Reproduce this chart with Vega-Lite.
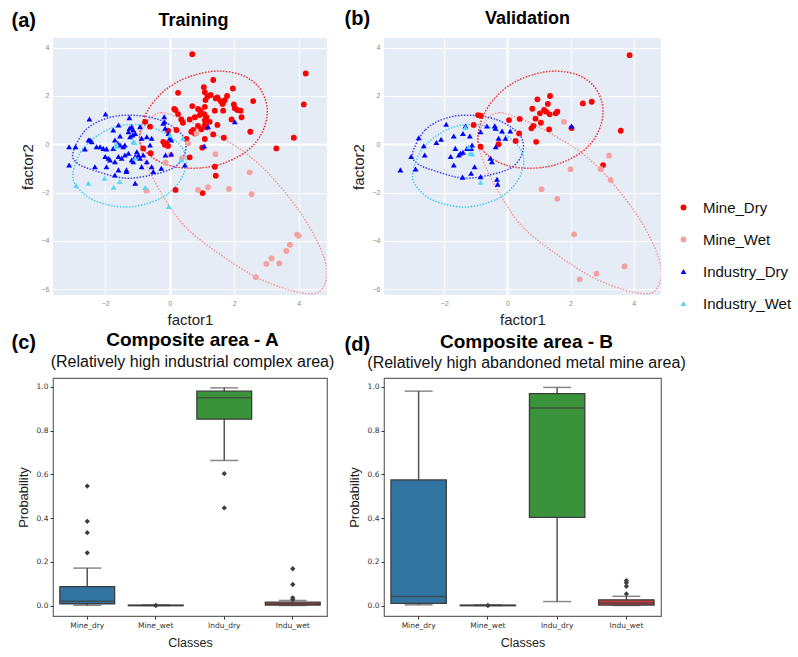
{
"$schema": "https://vega.github.io/schema/vega-lite/v6.json",
"autosize": {"type": "pad"},
"padding": {"left": 10, "top": 8, "right": 5, "bottom": 5},
"background": "white",
"config": {"font": "Liberation Sans"},
"columns": 2,
"bounds": "flush",
"spacing": {"row": 83, "column": 57},
"resolve": {"scale": {"color": "independent", "shape": "independent", "size": "independent"}, "legend": {"color": "independent", "shape": "independent"}},
"datasets": {
"ell": [
{"cls":"Mine_Dry","i":0,"x":-0.93,"y":0.11},{"cls":"Mine_Dry","i":1,"x":-0.78,"y":1.14},{"cls":"Mine_Dry","i":2,"x":-0.36,"y":1.97},{"cls":"Mine_Dry","i":3,"x":0.16,"y":2.52},{"cls":"Mine_Dry","i":4,"x":0.78,"y":2.87},{"cls":"Mine_Dry","i":5,"x":1.5,"y":3.03},{"cls":"Mine_Dry","i":6,"x":2.23,"y":2.87},{"cls":"Mine_Dry","i":7,"x":2.75,"y":2.39},{"cls":"Mine_Dry","i":8,"x":3.0,"y":1.7},{"cls":"Mine_Dry","i":9,"x":3.0,"y":1.01},{"cls":"Mine_Dry","i":10,"x":2.8,"y":0.32},{"cls":"Mine_Dry","i":11,"x":2.44,"y":-0.23},{"cls":"Mine_Dry","i":12,"x":1.92,"y":-0.65},{"cls":"Mine_Dry","i":13,"x":1.3,"y":-0.92},{"cls":"Mine_Dry","i":14,"x":0.57,"y":-0.99},{"cls":"Mine_Dry","i":15,"x":-0.05,"y":-0.86},{"cls":"Mine_Dry","i":16,"x":-0.57,"y":-0.51},
{"cls":"Mine_Wet","i":0,"x":-0.67,"y":1.0},{"cls":"Mine_Wet","i":1,"x":-0.26,"y":1.31},{"cls":"Mine_Wet","i":2,"x":0.36,"y":1.07},{"cls":"Mine_Wet","i":3,"x":0.98,"y":0.73},{"cls":"Mine_Wet","i":4,"x":1.81,"y":0.11},{"cls":"Mine_Wet","i":5,"x":2.43,"y":-0.44},{"cls":"Mine_Wet","i":6,"x":3.16,"y":-1.34},{"cls":"Mine_Wet","i":7,"x":3.99,"y":-2.71},{"cls":"Mine_Wet","i":8,"x":4.5,"y":-3.82},{"cls":"Mine_Wet","i":9,"x":4.81,"y":-4.78},{"cls":"Mine_Wet","i":10,"x":4.87,"y":-5.47},{"cls":"Mine_Wet","i":11,"x":4.71,"y":-6.02},{"cls":"Mine_Wet","i":12,"x":4.4,"y":-6.19},{"cls":"Mine_Wet","i":13,"x":3.68,"y":-6.02},{"cls":"Mine_Wet","i":14,"x":2.64,"y":-5.47},{"cls":"Mine_Wet","i":15,"x":1.5,"y":-4.5},{"cls":"Mine_Wet","i":16,"x":0.47,"y":-3.4},{"cls":"Mine_Wet","i":17,"x":-0.26,"y":-2.02},{"cls":"Mine_Wet","i":18,"x":-0.78,"y":-0.65},{"cls":"Mine_Wet","i":19,"x":-0.93,"y":0.31},
{"cls":"Industry_Dry","i":0,"x":-3.0,"y":-0.35},{"cls":"Industry_Dry","i":1,"x":-2.6,"y":0.6},{"cls":"Industry_Dry","i":2,"x":-1.9,"y":1.1},{"cls":"Industry_Dry","i":3,"x":-1.1,"y":1.2},{"cls":"Industry_Dry","i":4,"x":-0.3,"y":1.0},{"cls":"Industry_Dry","i":5,"x":0.35,"y":0.45},{"cls":"Industry_Dry","i":6,"x":0.5,"y":-0.2},{"cls":"Industry_Dry","i":7,"x":0.2,"y":-0.9},{"cls":"Industry_Dry","i":8,"x":-0.5,"y":-1.25},{"cls":"Industry_Dry","i":9,"x":-1.4,"y":-1.4},{"cls":"Industry_Dry","i":10,"x":-2.3,"y":-1.1},{"cls":"Industry_Dry","i":11,"x":-2.85,"y":-0.8},
{"cls":"Industry_Wet","i":0,"x":-3.0,"y":-1.2},{"cls":"Industry_Wet","i":1,"x":-2.7,"y":-0.2},{"cls":"Industry_Wet","i":2,"x":-2.0,"y":0.55},{"cls":"Industry_Wet","i":3,"x":-1.2,"y":0.82},{"cls":"Industry_Wet","i":4,"x":-0.4,"y":0.62},{"cls":"Industry_Wet","i":5,"x":0.3,"y":0.0},{"cls":"Industry_Wet","i":6,"x":0.52,"y":-0.7},{"cls":"Industry_Wet","i":7,"x":0.3,"y":-1.55},{"cls":"Industry_Wet","i":8,"x":-0.3,"y":-2.25},{"cls":"Industry_Wet","i":9,"x":-1.3,"y":-2.6},{"cls":"Industry_Wet","i":10,"x":-2.3,"y":-2.35},{"cls":"Industry_Wet","i":11,"x":-2.85,"y":-1.8}
],
"trn": [
{"cls":"Mine_Dry","x":0.7,"y":3.73},{"cls":"Mine_Dry","x":4.22,"y":2.93},{"cls":"Mine_Dry","x":4.16,"y":1.65},{"cls":"Mine_Dry","x":3.85,"y":0.27},{"cls":"Mine_Dry","x":3.31,"y":-0.17},{"cls":"Mine_Dry","x":2.59,"y":1.79},{"cls":"Mine_Dry","x":2.5,"y":0.52},{"cls":"Mine_Dry","x":1.96,"y":2.31},{"cls":"Mine_Dry","x":1.35,"y":2.66},{"cls":"Mine_Dry","x":1.06,"y":2.36},{"cls":"Mine_Dry","x":1.09,"y":2.15},{"cls":"Mine_Dry","x":0.26,"y":2.13},{"cls":"Mine_Dry","x":1.78,"y":2.0},{"cls":"Mine_Dry","x":1.48,"y":1.94},{"cls":"Mine_Dry","x":1.43,"y":1.9},{"cls":"Mine_Dry","x":1.27,"y":2.04},{"cls":"Mine_Dry","x":1.17,"y":1.97},{"cls":"Mine_Dry","x":1.11,"y":1.83},{"cls":"Mine_Dry","x":1.58,"y":1.79},{"cls":"Mine_Dry","x":1.66,"y":1.74},{"cls":"Mine_Dry","x":1.71,"y":1.83},{"cls":"Mine_Dry","x":1.64,"y":1.67},{"cls":"Mine_Dry","x":1.99,"y":1.65},{"cls":"Mine_Dry","x":2.02,"y":1.49},{"cls":"Mine_Dry","x":2.1,"y":1.42},{"cls":"Mine_Dry","x":2.2,"y":1.39},{"cls":"Mine_Dry","x":2.23,"y":1.12},{"cls":"Mine_Dry","x":1.92,"y":1.03},{"cls":"Mine_Dry","x":1.66,"y":1.39},{"cls":"Mine_Dry","x":1.4,"y":1.39},{"cls":"Mine_Dry","x":0.7,"y":1.58},{"cls":"Mine_Dry","x":0.14,"y":1.46},{"cls":"Mine_Dry","x":0.18,"y":1.42},{"cls":"Mine_Dry","x":0.26,"y":1.25},{"cls":"Mine_Dry","x":0.88,"y":1.46},{"cls":"Mine_Dry","x":0.96,"y":1.38},{"cls":"Mine_Dry","x":1.07,"y":1.25},{"cls":"Mine_Dry","x":1.14,"y":1.12},{"cls":"Mine_Dry","x":1.09,"y":1.0},{"cls":"Mine_Dry","x":0.78,"y":1.12},{"cls":"Mine_Dry","x":0.93,"y":1.21},{"cls":"Mine_Dry","x":1.24,"y":0.93},{"cls":"Mine_Dry","x":1.09,"y":1.55},{"cls":"Mine_Dry","x":1.48,"y":0.8},{"cls":"Mine_Dry","x":0.36,"y":1.03},{"cls":"Mine_Dry","x":0.41,"y":0.89},{"cls":"Mine_Dry","x":0.62,"y":1.03},{"cls":"Mine_Dry","x":0.88,"y":0.76},{"cls":"Mine_Dry","x":0.98,"y":0.62},{"cls":"Mine_Dry","x":1.14,"y":0.7},{"cls":"Mine_Dry","x":1.09,"y":0.8},{"cls":"Mine_Dry","x":0.73,"y":0.59},{"cls":"Mine_Dry","x":0.67,"y":0.52},{"cls":"Mine_Dry","x":0.78,"y":0.45},{"cls":"Mine_Dry","x":0.21,"y":0.59},{"cls":"Mine_Dry","x":0.52,"y":0.22},{"cls":"Mine_Dry","x":1.09,"y":0.22},{"cls":"Mine_Dry","x":1.35,"y":0.41},{"cls":"Mine_Dry","x":1.68,"y":0.27},{"cls":"Mine_Dry","x":1.01,"y":-0.14},{"cls":"Mine_Dry","x":-0.2,"y":0.1},{"cls":"Mine_Dry","x":-0.1,"y":0.04},{"cls":"Mine_Dry","x":-0.05,"y":-0.07},{"cls":"Mine_Dry","x":-0.05,"y":0.56},{"cls":"Mine_Dry","x":0.62,"y":-0.54},{"cls":"Mine_Dry","x":1.4,"y":-0.93},{"cls":"Mine_Dry","x":1.43,"y":-1.3},{"cls":"Mine_Dry","x":0.18,"y":-1.89},{"cls":"Mine_Dry","x":1.02,"y":-2.02},{"cls":"Mine_Dry","x":-0.61,"y":0.73},{"cls":"Mine_Dry","x":-0.76,"y":0.93},{"cls":"Mine_Dry","x":-0.59,"y":-0.37},{"cls":"Mine_Dry","x":-0.82,"y":-0.17},{"cls":"Mine_Dry","x":-0.15,"y":-0.02},
{"cls":"Mine_Wet","x":1.42,"y":-0.41},{"cls":"Mine_Wet","x":0.88,"y":-1.89},{"cls":"Mine_Wet","x":1.19,"y":-1.78},{"cls":"Mine_Wet","x":1.84,"y":-1.85},{"cls":"Mine_Wet","x":2.48,"y":-1.16},{"cls":"Mine_Wet","x":2.54,"y":-2.07},{"cls":"Mine_Wet","x":3.95,"y":-3.74},{"cls":"Mine_Wet","x":4.0,"y":-3.79},{"cls":"Mine_Wet","x":3.73,"y":-4.16},{"cls":"Mine_Wet","x":3.62,"y":-4.42},{"cls":"Mine_Wet","x":3.16,"y":-4.73},{"cls":"Mine_Wet","x":3.0,"y":-4.95},{"cls":"Mine_Wet","x":3.4,"y":-4.93},{"cls":"Mine_Wet","x":2.67,"y":-5.5},{"cls":"Mine_Wet","x":-0.72,"y":-1.92},{"cls":"Mine_Wet","x":0.83,"y":0.45},{"cls":"Mine_Wet","x":0.57,"y":0.04},{"cls":"Mine_Wet","x":0.38,"y":-0.58},{"cls":"Mine_Wet","x":0.03,"y":-0.44},{"cls":"Mine_Wet","x":-0.13,"y":-0.76},
{"cls":"Industry_Dry","x":-3.12,"y":-0.1},{"cls":"Industry_Dry","x":-2.92,"y":-0.1},{"cls":"Industry_Dry","x":-3.12,"y":-0.86},{"cls":"Industry_Dry","x":-2.63,"y":-0.19},{"cls":"Industry_Dry","x":-2.52,"y":0.18},{"cls":"Industry_Dry","x":-2.47,"y":0.18},{"cls":"Industry_Dry","x":-2.42,"y":0.11},{"cls":"Industry_Dry","x":-2.49,"y":1.05},{"cls":"Industry_Dry","x":-1.99,"y":1.25},{"cls":"Industry_Dry","x":-2.27,"y":-0.1},{"cls":"Industry_Dry","x":-2.16,"y":-0.1},{"cls":"Industry_Dry","x":-2.06,"y":-0.17},{"cls":"Industry_Dry","x":-1.96,"y":-0.19},{"cls":"Industry_Dry","x":-2.32,"y":-0.93},{"cls":"Industry_Dry","x":-2.0,"y":-0.51},{"cls":"Industry_Dry","x":-1.9,"y":-0.58},{"cls":"Industry_Dry","x":-1.75,"y":0.59},{"cls":"Industry_Dry","x":-1.54,"y":0.34},{"cls":"Industry_Dry","x":-1.59,"y":0.8},{"cls":"Industry_Dry","x":-1.7,"y":0.18},{"cls":"Industry_Dry","x":-1.61,"y":0.04},{"cls":"Industry_Dry","x":-1.75,"y":-0.17},{"cls":"Industry_Dry","x":-1.54,"y":-0.03},{"cls":"Industry_Dry","x":-1.44,"y":-0.1},{"cls":"Industry_Dry","x":-1.39,"y":-0.03},{"cls":"Industry_Dry","x":-1.96,"y":-0.93},{"cls":"Industry_Dry","x":-1.85,"y":-0.65},{"cls":"Industry_Dry","x":-1.7,"y":-0.72},{"cls":"Industry_Dry","x":-1.59,"y":-0.51},{"cls":"Industry_Dry","x":-1.49,"y":-0.58},{"cls":"Industry_Dry","x":-1.39,"y":-0.44},{"cls":"Industry_Dry","x":-1.28,"y":-0.37},{"cls":"Industry_Dry","x":-1.7,"y":-1.27},{"cls":"Industry_Dry","x":-1.59,"y":-1.06},{"cls":"Industry_Dry","x":-1.34,"y":-1.06},{"cls":"Industry_Dry","x":-1.34,"y":-1.13},{"cls":"Industry_Dry","x":-1.25,"y":0.66},{"cls":"Industry_Dry","x":-1.18,"y":0.73},{"cls":"Industry_Dry","x":-1.13,"y":0.59},{"cls":"Industry_Dry","x":-1.07,"y":0.45},{"cls":"Industry_Dry","x":-1.15,"y":0.38},{"cls":"Industry_Dry","x":-1.23,"y":0.31},{"cls":"Industry_Dry","x":-1.28,"y":0.52},{"cls":"Industry_Dry","x":-1.25,"y":1.1},{"cls":"Industry_Dry","x":-1.02,"y":-0.31},{"cls":"Industry_Dry","x":-0.97,"y":-0.44},{"cls":"Industry_Dry","x":-1.07,"y":-0.51},{"cls":"Industry_Dry","x":-1.18,"y":-0.65},{"cls":"Industry_Dry","x":-1.13,"y":-0.72},{"cls":"Industry_Dry","x":-0.92,"y":-0.58},{"cls":"Industry_Dry","x":-0.82,"y":-0.44},{"cls":"Industry_Dry","x":-1.07,"y":-1.61},{"cls":"Industry_Dry","x":-0.87,"y":-0.93},{"cls":"Industry_Dry","x":-0.71,"y":-0.72},{"cls":"Industry_Dry","x":-0.56,"y":-0.93},{"cls":"Industry_Dry","x":-0.51,"y":-1.13},{"cls":"Industry_Dry","x":-0.92,"y":0.73},{"cls":"Industry_Dry","x":-0.71,"y":0.31},{"cls":"Industry_Dry","x":-0.56,"y":0.25},{"cls":"Industry_Dry","x":-0.61,"y":-0.03},{"cls":"Industry_Dry","x":-0.87,"y":0.25},{"cls":"Industry_Dry","x":-0.2,"y":0.87},{"cls":"Industry_Dry","x":-0.14,"y":0.66},{"cls":"Industry_Dry","x":-0.04,"y":0.45},{"cls":"Industry_Dry","x":-0.17,"y":1.14},{"cls":"Industry_Dry","x":0.0,"y":0.25},{"cls":"Industry_Dry","x":0.05,"y":0.18},{"cls":"Industry_Dry","x":-0.13,"y":-0.44},{"cls":"Industry_Dry","x":0.05,"y":-0.4},{"cls":"Industry_Dry","x":0.47,"y":-0.86},{"cls":"Industry_Dry","x":1.19,"y":0.73},{"cls":"Industry_Dry","x":2.02,"y":0.93},{"cls":"Industry_Dry","x":1.07,"y":-0.07},{"cls":"Industry_Dry","x":-0.16,"y":0.93},{"cls":"Industry_Dry","x":-0.26,"y":-0.99},
{"cls":"Industry_Wet","x":-2.9,"y":-1.71},{"cls":"Industry_Wet","x":-2.52,"y":-1.61},{"cls":"Industry_Wet","x":-2.02,"y":-1.41},{"cls":"Industry_Wet","x":-1.74,"y":-1.78},{"cls":"Industry_Wet","x":-1.55,"y":-1.54},{"cls":"Industry_Wet","x":-0.76,"y":-1.79},{"cls":"Industry_Wet","x":-0.03,"y":-2.58},{"cls":"Industry_Wet","x":-1.66,"y":-0.1},{"cls":"Industry_Wet","x":-1.09,"y":0.07},{"cls":"Industry_Wet","x":0.36,"y":-0.65},{"cls":"Industry_Wet","x":0.41,"y":0.25},{"cls":"Industry_Wet","x":-1.65,"y":0.01},{"cls":"Industry_Wet","x":-1.13,"y":0.11},{"cls":"Industry_Wet","x":-1.07,"y":-0.58},{"cls":"Industry_Wet","x":0.01,"y":0.38}
],
"val": [
{"cls":"Mine_Dry","x":3.87,"y":3.69},{"cls":"Mine_Dry","x":3.59,"y":0.56},{"cls":"Mine_Dry","x":3.03,"y":-0.86},{"cls":"Mine_Dry","x":2.67,"y":1.76},{"cls":"Mine_Dry","x":2.39,"y":1.69},{"cls":"Mine_Dry","x":2.03,"y":0.67},{"cls":"Mine_Dry","x":1.35,"y":2.0},{"cls":"Mine_Dry","x":0.95,"y":1.86},{"cls":"Mine_Dry","x":1.28,"y":1.67},{"cls":"Mine_Dry","x":0.79,"y":1.47},{"cls":"Mine_Dry","x":1.03,"y":1.28},{"cls":"Mine_Dry","x":1.16,"y":1.42},{"cls":"Mine_Dry","x":1.23,"y":1.35},{"cls":"Mine_Dry","x":1.34,"y":1.24},{"cls":"Mine_Dry","x":1.53,"y":1.28},{"cls":"Mine_Dry","x":1.58,"y":1.35},{"cls":"Mine_Dry","x":0.89,"y":1.06},{"cls":"Mine_Dry","x":1.06,"y":0.89},{"cls":"Mine_Dry","x":0.05,"y":1.0},{"cls":"Mine_Dry","x":0.39,"y":1.05},{"cls":"Mine_Dry","x":0.82,"y":0.76},{"cls":"Mine_Dry","x":0.76,"y":0.66},{"cls":"Mine_Dry","x":1.32,"y":0.62},{"cls":"Mine_Dry","x":0.37,"y":0.45},{"cls":"Mine_Dry","x":0.26,"y":0.14},{"cls":"Mine_Dry","x":0.91,"y":0.1},{"cls":"Mine_Dry","x":-0.93,"y":1.21},{"cls":"Mine_Dry","x":-0.85,"y":1.18},{"cls":"Mine_Dry","x":-1.07,"y":0.8},{"cls":"Mine_Dry","x":-0.85,"y":-0.1},{"cls":"Mine_Dry","x":-0.28,"y":0.0},
{"cls":"Mine_Wet","x":1.79,"y":0.93},{"cls":"Mine_Wet","x":3.22,"y":-0.47},{"cls":"Mine_Wet","x":2.95,"y":-1.02},{"cls":"Mine_Wet","x":3.27,"y":-1.48},{"cls":"Mine_Wet","x":2.0,"y":-1.03},{"cls":"Mine_Wet","x":1.08,"y":-1.86},{"cls":"Mine_Wet","x":1.58,"y":-2.26},{"cls":"Mine_Wet","x":2.11,"y":-3.73},{"cls":"Mine_Wet","x":3.71,"y":-5.06},{"cls":"Mine_Wet","x":2.82,"y":-5.36},{"cls":"Mine_Wet","x":2.29,"y":-5.59},
{"cls":"Industry_Dry","x":-3.39,"y":-1.06},{"cls":"Industry_Dry","x":-3.05,"y":-0.51},{"cls":"Industry_Dry","x":-2.91,"y":-1.02},{"cls":"Industry_Dry","x":-2.81,"y":0.27},{"cls":"Industry_Dry","x":-2.65,"y":-0.06},{"cls":"Industry_Dry","x":-2.62,"y":-0.44},{"cls":"Industry_Dry","x":-2.25,"y":0.07},{"cls":"Industry_Dry","x":-2.1,"y":0.21},{"cls":"Industry_Dry","x":-1.94,"y":0.83},{"cls":"Industry_Dry","x":-1.8,"y":-0.51},{"cls":"Industry_Dry","x":-1.7,"y":0.34},{"cls":"Industry_Dry","x":-1.7,"y":-0.86},{"cls":"Industry_Dry","x":-1.65,"y":-0.17},{"cls":"Industry_Dry","x":-1.54,"y":-0.44},{"cls":"Industry_Dry","x":-1.49,"y":-0.37},{"cls":"Industry_Dry","x":-1.41,"y":-0.33},{"cls":"Industry_Dry","x":-1.41,"y":0.45},{"cls":"Industry_Dry","x":-1.33,"y":0.76},{"cls":"Industry_Dry","x":-1.19,"y":0.34},{"cls":"Industry_Dry","x":-1.28,"y":-0.17},{"cls":"Industry_Dry","x":-1.15,"y":-0.17},{"cls":"Industry_Dry","x":-1.12,"y":-0.03},{"cls":"Industry_Dry","x":-1.42,"y":-1.36},{"cls":"Industry_Dry","x":-1.15,"y":-1.2},{"cls":"Industry_Dry","x":-1.04,"y":-0.93},{"cls":"Industry_Dry","x":-0.85,"y":-1.34},{"cls":"Industry_Dry","x":-0.85,"y":0.52},{"cls":"Industry_Dry","x":-0.65,"y":0.76},{"cls":"Industry_Dry","x":-0.54,"y":-0.58},{"cls":"Industry_Dry","x":-0.49,"y":-0.72},{"cls":"Industry_Dry","x":-0.4,"y":0.77},{"cls":"Industry_Dry","x":-0.38,"y":0.66},{"cls":"Industry_Dry","x":-0.17,"y":0.55},{"cls":"Industry_Dry","x":-0.28,"y":0.25},{"cls":"Industry_Dry","x":-0.06,"y":0.25},{"cls":"Industry_Dry","x":0.09,"y":0.55},{"cls":"Industry_Dry","x":-0.33,"y":-1.45},{"cls":"Industry_Dry","x":-0.31,"y":-1.65},{"cls":"Industry_Dry","x":-0.37,"y":-0.1},{"cls":"Industry_Dry","x":2.03,"y":0.76},
{"cls":"Industry_Wet","x":-1.33,"y":0.7},{"cls":"Industry_Wet","x":-1.17,"y":-0.37},{"cls":"Industry_Wet","x":-1.22,"y":-0.1},{"cls":"Industry_Wet","x":-0.85,"y":-1.57},{"cls":"Industry_Wet","x":-1.11,"y":-0.4}
],
"boxA": [
{"cls":"Mine_dry","lo":0.001,"q1":0.008,"med":0.02,"q3":0.086,"hi":0.171},
{"cls":"Mine_wet","lo":0.0,"q1":0.0,"med":0.0,"q3":0.002,"hi":0.002},
{"cls":"Indu_dry","lo":0.663,"q1":0.852,"med":0.95,"q3":0.98,"hi":0.995},
{"cls":"Indu_wet","lo":0.0,"q1":0.002,"med":0.008,"q3":0.015,"hi":0.023}
],
"outA": [
{"cls":"Mine_dry","v":0.241},{"cls":"Mine_dry","v":0.333},{"cls":"Mine_dry","v":0.385},{"cls":"Mine_dry","v":0.546},
{"cls":"Mine_wet","v":0.0},
{"cls":"Indu_dry","v":0.603},{"cls":"Indu_dry","v":0.446},
{"cls":"Indu_wet","v":0.168},{"cls":"Indu_wet","v":0.096},{"cls":"Indu_wet","v":0.035},{"cls":"Indu_wet","v":0.027}
],
"boxB": [
{"cls":"Mine_dry","lo":0.003,"q1":0.01,"med":0.041,"q3":0.574,"hi":0.98},
{"cls":"Mine_wet","lo":0.0,"q1":0.0,"med":0.0,"q3":0.002,"hi":0.002},
{"cls":"Indu_dry","lo":0.018,"q1":0.403,"med":0.903,"q3":0.969,"hi":0.997},
{"cls":"Indu_wet","lo":0.0,"q1":0.002,"med":0.012,"q3":0.026,"hi":0.042}
],
"outB": [
{"cls":"Mine_wet","v":0.0},
{"cls":"Indu_wet","v":0.053},{"cls":"Indu_wet","v":0.088},{"cls":"Indu_wet","v":0.104},{"cls":"Indu_wet","v":0.114}
]
},
"concat": [
{
"width": 274, "height": 257,
"view": {"fill": "#e5ecf6", "stroke": null},
"resolve": {"axis": {"x": "independent", "y": "independent"}},
"layer": [
{"data": {"name": "ell"}, "transform": [{"filter": "datum.cls === 'Mine_Wet'"}],
 "mark": {"type": "line", "interpolate": "cardinal-closed", "strokeDash": [1.5, 1.5], "strokeWidth": 1.5, "color": "#f49a9a", "clip": true},
 "encoding": {
  "x": {"field": "x", "type": "quantitative", "scale": {"domain": [-3.62, 4.88], "nice": false, "zero": false},
        "axis": {"orient": "bottom", "values": [-2, 0, 2, 4], "title": "factor1", "titleFontSize": 15, "titleFontWeight": "normal", "titleColor": "#222", "titlePadding": 6, "labelFontSize": 7, "labelColor": "#888", "labelPadding": 4, "ticks": false, "domain": false, "grid": true, "gridColor": "white", "gridWidth": {"condition": {"test": "datum.value === 0", "value": 2}, "value": 1}}},
  "y": {"field": "y", "type": "quantitative", "scale": {"domain": [-6.24, 4.4], "nice": false, "zero": false},
        "axis": {"values": [-6, -4, -2, 0, 2, 4], "title": "factor2", "titleFontSize": 15, "titleFontWeight": "normal", "titleColor": "#222", "titlePadding": 6, "labelFontSize": 7, "labelColor": "#888", "labelPadding": 4, "ticks": false, "domain": false, "grid": true, "gridColor": "white", "gridWidth": {"condition": {"test": "datum.value === 0", "value": 2}, "value": 1}}},
  "order": {"field": "i", "type": "quantitative"}
 }},
{"data": {"name": "ell"}, "transform": [{"filter": "datum.cls === 'Mine_Dry'"}],
 "mark": {"type": "line", "interpolate": "cardinal-closed", "strokeDash": [1.5, 1.5], "strokeWidth": 1.5, "color": "#ee3030", "clip": true},
 "encoding": {"x": {"field": "x", "type": "quantitative", "axis": null}, "y": {"field": "y", "type": "quantitative", "axis": null}, "order": {"field": "i", "type": "quantitative"}}},
{"data": {"name": "ell"}, "transform": [{"filter": "datum.cls === 'Industry_Dry'"}],
 "mark": {"type": "line", "interpolate": "cardinal-closed", "strokeDash": [1.5, 1.5], "strokeWidth": 1.5, "color": "#4040ee", "clip": true},
 "encoding": {"x": {"field": "x", "type": "quantitative", "axis": null}, "y": {"field": "y", "type": "quantitative", "axis": null}, "order": {"field": "i", "type": "quantitative"}}},
{"data": {"name": "ell"}, "transform": [{"filter": "datum.cls === 'Industry_Wet'"}],
 "mark": {"type": "line", "interpolate": "cardinal-closed", "strokeDash": [1.5, 1.5], "strokeWidth": 1.5, "color": "#40cdf0", "clip": true},
 "encoding": {"x": {"field": "x", "type": "quantitative", "axis": null}, "y": {"field": "y", "type": "quantitative", "axis": null}, "order": {"field": "i", "type": "quantitative"}}},
{"data": {"name": "trn"},
 "mark": {"type": "point", "filled": true, "opacity": 1},
 "encoding": {
  "x": {"field": "x", "type": "quantitative", "axis": {"orient": "top", "title": "Training", "labels": false, "ticks": false, "domain": false, "grid": false, "titleFontSize": 18, "titleFontWeight": "bold", "titleColor": "#000", "titleX": 140, "titleY": -13, "titleAlign": "center", "titleBaseline": "alphabetic"}},
  "y": {"field": "y", "type": "quantitative", "axis": {"orient": "left", "title": "(a)", "titleAngle": 0, "labels": false, "ticks": false, "domain": false, "grid": false, "titleFontSize": 20, "titleFontWeight": "bold", "titleColor": "#000", "titleX": -42, "titleY": -12, "titleAlign": "left", "titleBaseline": "alphabetic"}},
  "color": {"field": "cls", "type": "nominal", "scale": {"domain": ["Mine_Dry", "Mine_Wet", "Industry_Dry", "Industry_Wet"], "range": ["#ff0000", "#f6a0a0", "#0000ff", "#5ad8f2"]}, "legend": null},
  "shape": {"field": "cls", "type": "nominal", "scale": {"domain": ["Mine_Dry", "Mine_Wet", "Industry_Dry", "Industry_Wet"], "range": ["circle", "circle", "triangle-up", "triangle-up"]}, "legend": null},
  "size": {"field": "cls", "type": "ordinal", "scale": {"domain": ["Mine_Dry", "Mine_Wet", "Industry_Dry", "Industry_Wet"], "range": [34, 34, 22, 22]}, "legend": null}
 }}
]
},
{
"width": 277, "height": 257,
"view": {"fill": "#e5ecf6", "stroke": null},
"resolve": {"axis": {"x": "independent", "y": "independent"}},
"layer": [
{"data": {"name": "ell"}, "transform": [{"filter": "datum.cls === 'Mine_Wet'"}],
 "mark": {"type": "line", "interpolate": "cardinal-closed", "strokeDash": [1.5, 1.5], "strokeWidth": 1.5, "color": "#f49a9a", "clip": true},
 "encoding": {
  "x": {"field": "x", "type": "quantitative", "scale": {"domain": [-3.91, 4.865], "nice": false, "zero": false},
        "axis": {"orient": "bottom", "values": [-2, 0, 2, 4], "title": "factor1", "titleFontSize": 15, "titleFontWeight": "normal", "titleColor": "#222", "titlePadding": 6, "labelFontSize": 7, "labelColor": "#888", "labelPadding": 4, "ticks": false, "domain": false, "grid": true, "gridColor": "white", "gridWidth": {"condition": {"test": "datum.value === 0", "value": 2}, "value": 1}}},
  "y": {"field": "y", "type": "quantitative", "scale": {"domain": [-6.24, 4.4], "nice": false, "zero": false},
        "axis": {"values": [-6, -4, -2, 0, 2, 4], "title": "factor2", "titleFontSize": 15, "titleFontWeight": "normal", "titleColor": "#222", "titlePadding": 6, "labelFontSize": 7, "labelColor": "#888", "labelPadding": 4, "ticks": false, "domain": false, "grid": true, "gridColor": "white", "gridWidth": {"condition": {"test": "datum.value === 0", "value": 2}, "value": 1}}},
  "order": {"field": "i", "type": "quantitative"}
 }},
{"data": {"name": "ell"}, "transform": [{"filter": "datum.cls === 'Mine_Dry'"}],
 "mark": {"type": "line", "interpolate": "cardinal-closed", "strokeDash": [1.5, 1.5], "strokeWidth": 1.5, "color": "#ee3030", "clip": true},
 "encoding": {"x": {"field": "x", "type": "quantitative", "axis": null}, "y": {"field": "y", "type": "quantitative", "axis": null}, "order": {"field": "i", "type": "quantitative"}}},
{"data": {"name": "ell"}, "transform": [{"filter": "datum.cls === 'Industry_Dry'"}],
 "mark": {"type": "line", "interpolate": "cardinal-closed", "strokeDash": [1.5, 1.5], "strokeWidth": 1.5, "color": "#4040ee", "clip": true},
 "encoding": {"x": {"field": "x", "type": "quantitative", "axis": null}, "y": {"field": "y", "type": "quantitative", "axis": null}, "order": {"field": "i", "type": "quantitative"}}},
{"data": {"name": "ell"}, "transform": [{"filter": "datum.cls === 'Industry_Wet'"}],
 "mark": {"type": "line", "interpolate": "cardinal-closed", "strokeDash": [1.5, 1.5], "strokeWidth": 1.5, "color": "#40cdf0", "clip": true},
 "encoding": {"x": {"field": "x", "type": "quantitative", "axis": null}, "y": {"field": "y", "type": "quantitative", "axis": null}, "order": {"field": "i", "type": "quantitative"}}},
{"data": {"name": "val"},
 "mark": {"type": "point", "filled": true, "opacity": 1},
 "encoding": {
  "x": {"field": "x", "type": "quantitative", "axis": {"orient": "top", "title": "Validation", "labels": false, "ticks": false, "domain": false, "grid": false, "titleFontSize": 18, "titleFontWeight": "bold", "titleColor": "#000", "titleX": 143, "titleY": -15, "titleAlign": "center", "titleBaseline": "alphabetic"}},
  "y": {"field": "y", "type": "quantitative", "axis": {"orient": "left", "title": "(b)", "titleAngle": 0, "labels": false, "ticks": false, "domain": false, "grid": false, "titleFontSize": 20, "titleFontWeight": "bold", "titleColor": "#000", "titleX": -40, "titleY": -14, "titleAlign": "left", "titleBaseline": "alphabetic"}},
  "color": {"field": "cls", "type": "nominal", "scale": {"domain": ["Mine_Dry", "Mine_Wet", "Industry_Dry", "Industry_Wet"], "range": ["#ff0000", "#f6a0a0", "#0000ff", "#5ad8f2"]},
   "legend": {"orient": "none", "legendX": 292, "legendY": 162, "title": null, "padding": 0, "labelFontSize": 15, "labelColor": "#111", "labelOffset": 12, "symbolSize": 85, "rowPadding": 16}},
  "shape": {"field": "cls", "type": "nominal", "scale": {"domain": ["Mine_Dry", "Mine_Wet", "Industry_Dry", "Industry_Wet"], "range": ["circle", "circle", "triangle-up", "triangle-up"]},
   "legend": {"orient": "none", "legendX": 292, "legendY": 162, "title": null, "padding": 0, "labelFontSize": 15, "labelColor": "#111", "labelOffset": 12, "symbolSize": 85, "rowPadding": 16}},
  "size": {"field": "cls", "type": "ordinal", "scale": {"domain": ["Mine_Dry", "Mine_Wet", "Industry_Dry", "Industry_Wet"], "range": [34, 34, 22, 22]}, "legend": null}
 }}
]
},
{
"width": 274, "height": 238,
"view": {"fill": "white", "stroke": "#666", "strokeWidth": 1.2},
"resolve": {"axis": {"x": "independent", "y": "independent"}},
"layer": [
{"data": {"name": "boxA"}, "mark": {"type": "rule", "color": "#555", "strokeWidth": 1.5},
 "encoding": {
  "x": {"field": "cls", "type": "nominal", "sort": null, "scale": {"domain": ["Mine_dry", "Mine_wet", "Indu_dry", "Indu_wet"], "paddingInner": 0, "paddingOuter": 0},
        "axis": {"title": "Classes", "labelAngle": 0, "labelFont": "DejaVu Sans", "labelFontSize": 7.5, "labelColor": "#333", "tickColor": "#333", "tickSize": 3, "domain": false, "grid": false, "titleFontSize": 12.5, "titleFontWeight": "normal", "titleColor": "#222", "titlePadding": 8}},
  "y": {"field": "lo", "type": "quantitative", "scale": {"domain": [-0.048, 1.04], "nice": false, "zero": false},
        "axis": {"values": [0, 0.2, 0.4, 0.6, 0.8, 1.0], "format": ".1f", "title": "Probability", "labelFont": "DejaVu Sans", "labelFontSize": 7.5, "labelColor": "#333", "tickColor": "#333", "tickSize": 3, "domain": false, "grid": false, "titleFontSize": 13, "titleFontWeight": "normal", "titleColor": "#222", "titlePadding": 6}},
  "y2": {"field": "hi"}
 }},
{"data": {"name": "boxA"}, "mark": {"type": "tick", "color": "#555", "thickness": 1.5, "size": 28},
 "encoding": {
  "x": {"field": "cls", "type": "nominal", "axis": {"orient": "top", "title": "(Relatively high industrial complex area)", "labels": false, "ticks": false, "domain": false, "grid": false, "titleFontSize": 16, "titleFontWeight": "normal", "titleColor": "#111", "titleX": 139, "titleY": -12, "titleAlign": "center", "titleBaseline": "alphabetic"}},
  "y": {"field": "lo", "type": "quantitative", "axis": null}
 }},
{"data": {"name": "boxA"}, "mark": {"type": "tick", "color": "#555", "thickness": 1.5, "size": 28},
 "encoding": {
  "x": {"field": "cls", "type": "nominal", "axis": null},
  "y": {"field": "hi", "type": "quantitative", "axis": null}
 }},
{"data": {"name": "boxA"}, "mark": {"type": "bar", "width": {"band": 0.8}, "stroke": "#3d3d3d", "strokeWidth": 1.3},
 "encoding": {
  "x": {"field": "cls", "type": "nominal", "axis": null},
  "y": {"field": "q1", "type": "quantitative", "axis": null},
  "y2": {"field": "q3"},
  "color": {"field": "cls", "type": "nominal", "scale": {"domain": ["Mine_dry", "Mine_wet", "Indu_dry", "Indu_wet"], "range": ["#3274a1", "#e1812c", "#3a923a", "#c03d3e"]}, "legend": null}
 }},
{"data": {"name": "boxA"}, "mark": {"type": "tick", "color": "#3d3d3d", "thickness": 1.5, "size": 55},
 "encoding": {
  "x": {"field": "cls", "type": "nominal", "axis": null},
  "y": {"field": "med", "type": "quantitative", "axis": null}
 }},
{"data": {"name": "outA"}, "mark": {"type": "point", "shape": "diamond", "filled": true, "color": "#3d3d3d", "size": 28, "opacity": 1},
 "encoding": {
  "x": {"field": "cls", "type": "nominal", "axis": {"orient": "top", "title": "Composite area - A", "labels": false, "ticks": false, "domain": false, "grid": false, "titleFontSize": 19, "titleFontWeight": "bold", "titleColor": "#000", "titleX": 139, "titleY": -33, "titleAlign": "center", "titleBaseline": "alphabetic"}},
  "y": {"field": "v", "type": "quantitative", "axis": {"orient": "left", "title": "(c)", "titleAngle": 0, "labels": false, "ticks": false, "domain": false, "grid": false, "titleFontSize": 20, "titleFontWeight": "bold", "titleColor": "#000", "titleX": -42, "titleY": -30, "titleAlign": "left", "titleBaseline": "alphabetic"}}
 }}
]
},
{
"width": 277, "height": 238,
"view": {"fill": "white", "stroke": "#666", "strokeWidth": 1.2},
"resolve": {"axis": {"x": "independent", "y": "independent"}},
"layer": [
{"data": {"name": "boxB"}, "mark": {"type": "rule", "color": "#555", "strokeWidth": 1.5},
 "encoding": {
  "x": {"field": "cls", "type": "nominal", "sort": null, "scale": {"domain": ["Mine_dry", "Mine_wet", "Indu_dry", "Indu_wet"], "paddingInner": 0, "paddingOuter": 0},
        "axis": {"title": "Classes", "labelAngle": 0, "labelFont": "DejaVu Sans", "labelFontSize": 7.5, "labelColor": "#333", "tickColor": "#333", "tickSize": 3, "domain": false, "grid": false, "titleFontSize": 12.5, "titleFontWeight": "normal", "titleColor": "#222", "titlePadding": 8}},
  "y": {"field": "lo", "type": "quantitative", "scale": {"domain": [-0.048, 1.04], "nice": false, "zero": false},
        "axis": {"values": [0, 0.2, 0.4, 0.6, 0.8, 1.0], "format": ".1f", "title": "Probability", "labelFont": "DejaVu Sans", "labelFontSize": 7.5, "labelColor": "#333", "tickColor": "#333", "tickSize": 3, "domain": false, "grid": false, "titleFontSize": 13, "titleFontWeight": "normal", "titleColor": "#222", "titlePadding": 6}},
  "y2": {"field": "hi"}
 }},
{"data": {"name": "boxB"}, "mark": {"type": "tick", "color": "#555", "thickness": 1.5, "size": 28},
 "encoding": {
  "x": {"field": "cls", "type": "nominal", "axis": {"orient": "top", "title": "(Relatively high abandoned metal mine area)", "labels": false, "ticks": false, "domain": false, "grid": false, "titleFontSize": 16, "titleFontWeight": "normal", "titleColor": "#111", "titleX": 142, "titleY": -11, "titleAlign": "center", "titleBaseline": "alphabetic"}},
  "y": {"field": "lo", "type": "quantitative", "axis": null}
 }},
{"data": {"name": "boxB"}, "mark": {"type": "tick", "color": "#555", "thickness": 1.5, "size": 28},
 "encoding": {
  "x": {"field": "cls", "type": "nominal", "axis": null},
  "y": {"field": "hi", "type": "quantitative", "axis": null}
 }},
{"data": {"name": "boxB"}, "mark": {"type": "bar", "width": {"band": 0.8}, "stroke": "#3d3d3d", "strokeWidth": 1.3},
 "encoding": {
  "x": {"field": "cls", "type": "nominal", "axis": null},
  "y": {"field": "q1", "type": "quantitative", "axis": null},
  "y2": {"field": "q3"},
  "color": {"field": "cls", "type": "nominal", "scale": {"domain": ["Mine_dry", "Mine_wet", "Indu_dry", "Indu_wet"], "range": ["#3274a1", "#e1812c", "#3a923a", "#c03d3e"]}, "legend": null}
 }},
{"data": {"name": "boxB"}, "mark": {"type": "tick", "color": "#3d3d3d", "thickness": 1.5, "size": 55},
 "encoding": {
  "x": {"field": "cls", "type": "nominal", "axis": null},
  "y": {"field": "med", "type": "quantitative", "axis": null}
 }},
{"data": {"name": "outB"}, "mark": {"type": "point", "shape": "diamond", "filled": true, "color": "#3d3d3d", "size": 28, "opacity": 1},
 "encoding": {
  "x": {"field": "cls", "type": "nominal", "axis": {"orient": "top", "title": "Composite area - B", "labels": false, "ticks": false, "domain": false, "grid": false, "titleFontSize": 19, "titleFontWeight": "bold", "titleColor": "#000", "titleX": 142, "titleY": -31, "titleAlign": "center", "titleBaseline": "alphabetic"}},
  "y": {"field": "v", "type": "quantitative", "axis": {"orient": "left", "title": "(d)", "titleAngle": 0, "labels": false, "ticks": false, "domain": false, "grid": false, "titleFontSize": 20, "titleFontWeight": "bold", "titleColor": "#000", "titleX": -40, "titleY": -28, "titleAlign": "left", "titleBaseline": "alphabetic"}}
 }}
]
}
]
}
